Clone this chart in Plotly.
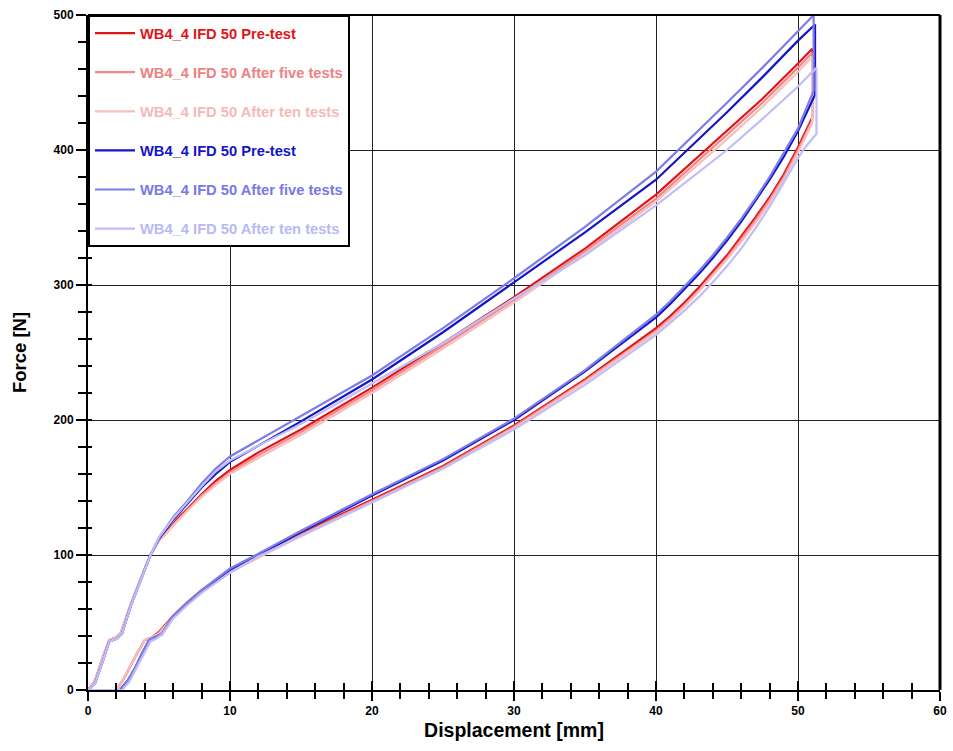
import plotly.graph_objects as go

# ---------------- data ----------------
RED_PRE_X = [0, 0.5, 1.0, 1.5, 2.0, 2.3, 3.0, 3.5, 4.0, 4.4, 5.0, 5.5, 6.0, 6.5, 7.0, 8.0, 9.0, 10, 12, 15, 20, 25, 30, 35, 40, 45, 47.5, 50, 51.0,
             51.0, 50, 49, 48, 47, 46, 45, 44, 43, 42, 41, 40, 35, 30, 25, 20, 15, 12, 10, 8, 7, 6, 5.0, 4.5, 4.0, 3.5, 3.0, 2.5, 2.0, 1.0, 0]
RED_PRE_Y = [0, 7, 23, 37, 39, 42, 63, 77, 90, 100, 111, 117, 123, 129, 134, 145, 155, 163, 176, 193, 224, 257, 291, 327, 367, 414, 438, 464, 475,
             424, 402, 382, 365, 350, 336, 322, 310, 298, 287, 277, 268, 230, 196, 166, 141, 116, 100, 88, 74, 65, 55, 43, 39, 37, 28, 18, 8, 0, 0, 0]

PINK5_X = [0, 0.5, 1.0, 1.5, 2.0, 2.3, 3.0, 3.5, 4.0, 4.4, 5.0, 5.5, 6.0, 6.5, 7.0, 8.0, 9.0, 10, 12, 15, 20, 25, 30, 35, 40, 45, 47.5, 50, 51.0,
           51.0, 50, 49, 48, 47, 46, 45, 44, 43, 42, 41, 40, 35, 30, 25, 20, 15, 12, 10, 8, 7, 6, 5.0, 4.5, 4.0, 3.5, 3.0, 2.5, 2.0, 1.0, 0]
PINK5_Y = [0, 7, 23, 37, 39, 42, 63, 77, 90, 100, 111, 116, 122, 128, 133, 144, 153, 161, 174, 191, 222, 255, 289, 325, 364, 411, 435, 461, 472,
           422, 400, 380, 363, 348, 334, 320, 308, 296, 285, 275, 266, 229, 195, 165, 140, 115, 99, 87, 73, 64, 54, 42, 39, 37, 28, 18, 8, 0, 0, 0]

PINK10_X = [0, 0.5, 1.0, 1.5, 2.0, 2.3, 3.0, 3.5, 4.0, 4.4, 5.0, 5.5, 6.0, 6.5, 7.0, 8.0, 9.0, 10, 12, 15, 20, 25, 30, 35, 40, 45, 47.5, 50, 51.0,
            51.0, 50, 49, 48, 47, 46, 45, 44, 43, 42, 41, 40, 35, 30, 25, 20, 15, 12, 10, 8, 7, 6, 5.0, 4.5, 4.0, 3.5, 3.0, 2.5, 2.0, 1.0, 0]
PINK10_Y = [0, 7, 23, 37, 39, 42, 63, 77, 90, 100, 111, 116, 122, 127, 133, 143, 152, 160, 172, 189, 220, 253, 287, 323, 362, 408, 432, 458, 469,
            420, 398, 378, 361, 346, 332, 319, 307, 295, 284, 274, 265, 228, 194, 164, 139, 114, 98, 87, 73, 64, 54, 42, 39, 37, 28, 18, 8, 0, 0, 0]

BLUE_PRE_X = [0, 0.5, 1.0, 1.5, 2.0, 2.4, 3.0, 3.5, 4.0, 4.4, 5.0, 5.5, 6.0, 6.5, 7.0, 8.0, 9.0, 10, 12, 15, 20, 25, 30, 35, 40, 45, 47.5, 50, 51.2,
              51.2, 50, 49, 48, 47, 46, 45, 44, 43, 42, 41, 40, 35, 30, 25, 20, 15, 12, 10, 8, 7, 6, 5.2, 4.7, 4.3, 3.8, 3.3, 2.8, 2.25, 1.0, 0]
BLUE_PRE_Y = [0, 5, 20, 36, 38, 42, 62, 76, 89, 100, 112, 119, 126, 132, 138, 150, 160, 169, 181, 199, 230, 265, 302, 339, 378, 428, 454, 481, 493,
              441, 414, 395, 378, 362, 347, 333, 320, 308, 297, 286, 276, 236, 200, 170, 144, 117, 100, 89, 73, 64, 54, 41, 39, 37, 27, 16, 7, 0, 0, 0]

LBLUE5_X = [0, 0.5, 1.0, 1.5, 2.0, 2.4, 3.0, 3.5, 4.0, 4.4, 5.0, 5.5, 6.0, 6.5, 7.0, 8.0, 9.0, 10, 12, 15, 20, 25, 30, 35, 40, 45, 47.5, 50, 51.1,
            51.1, 50, 49, 48, 47, 46, 45, 44, 43, 42, 41, 40, 35, 30, 25, 20, 15, 12, 10, 8, 7, 6, 5.2, 4.7, 4.3, 3.8, 3.3, 2.8, 2.3, 1.0, 0]
LBLUE5_Y = [0, 5, 20, 36, 38, 42, 62, 76, 89, 100, 113, 121, 128, 134, 140, 153, 164, 173, 185, 203, 233, 268, 305, 343, 384, 435, 461, 488, 500,
            444, 416, 398, 380, 364, 349, 335, 322, 310, 299, 288, 278, 237, 201, 171, 145, 118, 101, 90, 74, 65, 55, 42, 39, 37, 27, 16, 7, 0, 0, 0]

LBLUE10_X = [0, 0.5, 1.0, 1.5, 2.0, 2.4, 3.0, 3.5, 4.0, 4.4, 5.0, 5.5, 6.0, 6.5, 7.0, 8.0, 9.0, 10, 12, 15, 20, 25, 30, 35, 40, 45, 47.5, 50, 51.3,
             51.3, 50.5, 50, 49, 48, 47, 46, 45, 44, 43, 42, 41, 40, 35, 30, 25, 20, 15, 12, 10, 8, 7, 6, 5.2, 4.8, 4.4, 3.9, 3.4, 2.9, 2.4, 1.0, 0]
LBLUE10_Y = [0, 5, 20, 36, 38, 42, 62, 76, 89, 100, 113, 120, 127, 133, 139, 151, 162, 170, 181, 197, 227, 257, 290, 322, 359, 400, 423, 447, 461,
             412, 402, 394, 376, 358, 342, 327, 314, 302, 291, 281, 272, 263, 226, 193, 164, 139, 114, 99, 87, 72, 63, 53, 41, 38, 36, 26, 15, 6, 0, 0, 0]

SERIES = [
    ("WB4_4 IFD 50 Pre-test", RED_PRE_X, RED_PRE_Y, "rgb(225,20,25)", "rgb(225,20,25)"),
    ("WB4_4 IFD 50 After five tests", PINK5_X, PINK5_Y, "rgb(242,135,135)", "rgb(238,130,130)"),
    ("WB4_4 IFD 50 After ten tests", PINK10_X, PINK10_Y, "rgb(247,190,190)", "rgb(245,185,185)"),
    ("WB4_4 IFD 50 Pre-test", BLUE_PRE_X, BLUE_PRE_Y, "rgb(20,20,200)", "rgb(20,20,200)"),
    ("WB4_4 IFD 50 After five tests", LBLUE5_X, LBLUE5_Y, "rgb(125,125,232)", "rgb(120,120,230)"),
    ("WB4_4 IFD 50 After ten tests", LBLUE10_X, LBLUE10_Y, "rgb(190,190,248)", "rgb(185,185,245)"),
]

X_TICKS = [0, 10, 20, 30, 40, 50, 60]
Y_TICKS = [0, 100, 200, 300, 400, 500]

FONT = "Liberation Sans, Arial, sans-serif"

fig = go.Figure()
for i, (name, xs, ys, lc, tc) in enumerate(SERIES):
    fig.add_trace(go.Scatter(
        x=xs, y=ys, mode="lines",
        line=dict(color=lc, width=2.2),
        name=f"<b><span style='color:{tc}'>{name}</span></b>",
        legendgroup=f"g{i}",
    ))

axis_common = dict(showline=True, linecolor="black", linewidth=2, mirror=False, automargin=False,
                   showgrid=True, gridcolor="#222", gridwidth=1, zeroline=False)

fig.update_layout(
    width=953, height=751,
    margin=dict(l=88, r=13, t=15, b=61),
    paper_bgcolor="white", plot_bgcolor="white",
    font=dict(family=FONT, color="black"),
    showlegend=True,
    legend=dict(x=0, y=1, xanchor="left", yanchor="top",
                bgcolor="white", bordercolor="black", borderwidth=2,
                font=dict(family=FONT, size=14.7),
                tracegroupgap=17, traceorder="grouped", itemwidth=40),
    xaxis=dict(range=[0, 60], tickvals=X_TICKS, ticks="outside", ticklen=9, tickwidth=2, tickcolor="black",
               minor=dict(dtick=2, ticks="outside", ticklen=7, tickwidth=2, tickcolor="black", showgrid=False),
               tickfont=dict(family=FONT, size=12, weight="bold", color="black"),
               title=dict(text="Displacement [mm]", font=dict(family=FONT, size=19.5, weight="bold"), standoff=6),
               **axis_common),
    yaxis=dict(range=[0, 500], tickvals=Y_TICKS, ticks="outside", ticklen=10, tickwidth=2, tickcolor="black",
               minor=dict(dtick=20, ticks="outside", ticklen=8, tickwidth=2, tickcolor="black", showgrid=False),
               tickfont=dict(family=FONT, size=12, weight="bold", color="black"),
               title=dict(text="Force [N]", font=dict(family=FONT, size=18.5, weight="bold"), standoff=22),
               **axis_common),
    # overlay axes to make ticks cross the axis line
    xaxis2=dict(range=[0, 60], overlaying="x", anchor="y", side="bottom", tickvals=X_TICKS,
                ticks="inside", ticklen=9, tickwidth=2, tickcolor="black", showticklabels=False,
                minor=dict(dtick=2, ticks="inside", ticklen=7, tickwidth=2, tickcolor="black"),
                showgrid=False, showline=False, zeroline=False, automargin=False),
    yaxis2=dict(range=[0, 500], overlaying="y", anchor="x", side="left", tickvals=Y_TICKS,
                ticks="inside", ticklen=4, tickwidth=2, tickcolor="black", showticklabels=False,
                minor=dict(dtick=20, ticks="inside", ticklen=4, tickwidth=2, tickcolor="black"),
                showgrid=False, showline=False, zeroline=False, automargin=False),
)

# dummy invisible trace to activate overlay axes
fig.add_trace(go.Scatter(x=[None], y=[None], xaxis="x2", yaxis="y2", showlegend=False, hoverinfo="skip"))

# top and right border lines
fig.add_shape(type="line", xref="paper", yref="paper", x0=0, x1=1, y0=1, y1=1, line=dict(color="black", width=2))
fig.add_shape(type="line", xref="paper", yref="paper", x0=1, x1=1, y0=0, y1=1, line=dict(color="black", width=3))

fig.write_html("out.html")
